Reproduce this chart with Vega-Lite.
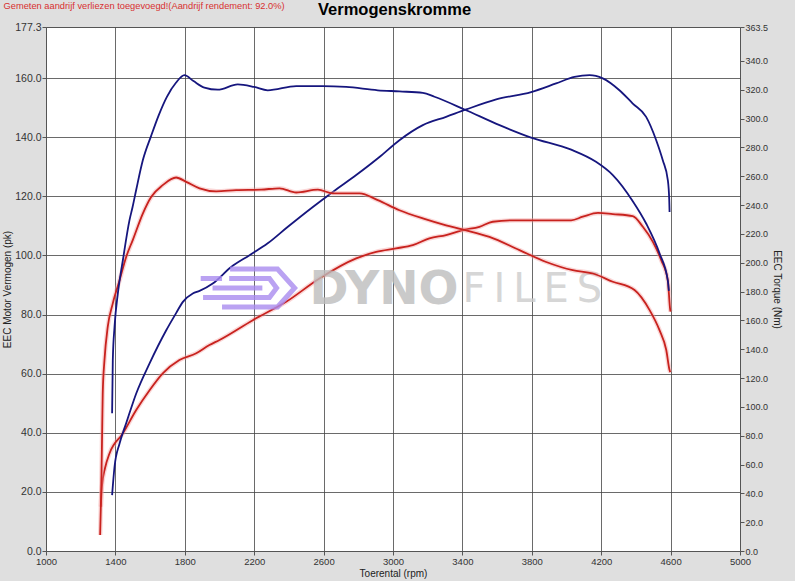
{
  "$schema": "https://vega.github.io/schema/vega-lite/v6.json",
  "autosize": {"type": "none"},
  "width": 694,
  "height": 524,
  "padding": {"left": 46, "top": 27, "right": 55, "bottom": 30},
  "background": "#dfdfdf",
  "config": {
    "view": {"fill": "#ffffff", "stroke": "#9a9a9a", "strokeWidth": 1},
    "axis": {"labelFont": "Liberation Sans", "labelFontSize": 10, "labelColor": "#333333", "labelOverlap": false, "titleFont": "Liberation Sans", "titleFontSize": 10, "titleFontWeight": "normal", "titleColor": "#222222", "tickColor": "#555555", "tickSize": 4, "domain": false, "gridColor": "#444444", "gridWidth": 0.8, "gridOpacity": 1}
  },
  "datasets": {
    "power": [
      {"rpm": 1316, "pk": 15.0, "run": "red"}, {"rpm": 1322, "pk": 21.7, "run": "red"}, {"rpm": 1340, "pk": 28.0, "run": "red"}, {"rpm": 1366, "pk": 33.0, "run": "red"}, {"rpm": 1443, "pk": 39.8, "run": "red"}, {"rpm": 1520, "pk": 47.7, "run": "red"}, {"rpm": 1597, "pk": 54.4, "run": "red"}, {"rpm": 1673, "pk": 60.1, "run": "red"}, {"rpm": 1769, "pk": 64.6, "run": "red"}, {"rpm": 1866, "pk": 66.9, "run": "red"}, {"rpm": 1942, "pk": 69.7, "run": "red"}, {"rpm": 2000, "pk": 71.4, "run": "red"}, {"rpm": 2192, "pk": 78.1, "run": "red"}, {"rpm": 2384, "pk": 84.3, "run": "red"}, {"rpm": 2576, "pk": 92.2, "run": "red"}, {"rpm": 2788, "pk": 99.0, "run": "red"}, {"rpm": 2903, "pk": 101.2, "run": "red"}, {"rpm": 3018, "pk": 102.4, "run": "red"}, {"rpm": 3114, "pk": 103.5, "run": "red"}, {"rpm": 3210, "pk": 105.8, "run": "red"}, {"rpm": 3306, "pk": 106.9, "run": "red"}, {"rpm": 3402, "pk": 108.6, "run": "red"}, {"rpm": 3498, "pk": 109.7, "run": "red"}, {"rpm": 3575, "pk": 111.4, "run": "red"}, {"rpm": 3710, "pk": 111.9, "run": "red"}, {"rpm": 3883, "pk": 111.9, "run": "red"}, {"rpm": 4027, "pk": 111.9, "run": "red"}, {"rpm": 4094, "pk": 113.1, "run": "red"}, {"rpm": 4181, "pk": 114.4, "run": "red"}, {"rpm": 4267, "pk": 114.0, "run": "red"}, {"rpm": 4382, "pk": 113.3, "run": "red"}, {"rpm": 4440, "pk": 109.7, "run": "red"}, {"rpm": 4498, "pk": 104.6, "run": "red"}, {"rpm": 4546, "pk": 98.4, "run": "red"}, {"rpm": 4584, "pk": 91.6, "run": "red"}, {"rpm": 4598, "pk": 81.5, "run": "red"}, {"rpm": 4600, "pk": 81.0, "run": "red"},
      {"rpm": 1381, "pk": 18.9, "run": "blue"}, {"rpm": 1395, "pk": 28.5, "run": "blue"}, {"rpm": 1424, "pk": 36.4, "run": "blue"}, {"rpm": 1462, "pk": 43.2, "run": "blue"}, {"rpm": 1520, "pk": 53.3, "run": "blue"}, {"rpm": 1597, "pk": 63.5, "run": "blue"}, {"rpm": 1693, "pk": 74.7, "run": "blue"}, {"rpm": 1750, "pk": 80.5, "run": "blue"}, {"rpm": 1789, "pk": 84.3, "run": "blue"}, {"rpm": 1846, "pk": 87.1, "run": "blue"}, {"rpm": 1885, "pk": 88.0, "run": "blue"}, {"rpm": 1961, "pk": 90.5, "run": "blue"}, {"rpm": 2067, "pk": 96.1, "run": "blue"}, {"rpm": 2173, "pk": 100.1, "run": "blue"}, {"rpm": 2278, "pk": 104.1, "run": "blue"}, {"rpm": 2394, "pk": 109.7, "run": "blue"}, {"rpm": 2538, "pk": 116.4, "run": "blue"}, {"rpm": 2653, "pk": 121.5, "run": "blue"}, {"rpm": 2788, "pk": 127.2, "run": "blue"}, {"rpm": 2922, "pk": 133.3, "run": "blue"}, {"rpm": 3037, "pk": 139.0, "run": "blue"}, {"rpm": 3172, "pk": 144.1, "run": "blue"}, {"rpm": 3306, "pk": 146.9, "run": "blue"}, {"rpm": 3422, "pk": 149.4, "run": "blue"}, {"rpm": 3595, "pk": 152.8, "run": "blue"}, {"rpm": 3796, "pk": 155.3, "run": "blue"}, {"rpm": 3940, "pk": 158.2, "run": "blue"}, {"rpm": 4046, "pk": 160.4, "run": "blue"}, {"rpm": 4133, "pk": 161.0, "run": "blue"}, {"rpm": 4209, "pk": 159.9, "run": "blue"}, {"rpm": 4305, "pk": 155.9, "run": "blue"}, {"rpm": 4382, "pk": 151.4, "run": "blue"}, {"rpm": 4459, "pk": 146.9, "run": "blue"}, {"rpm": 4517, "pk": 139.0, "run": "blue"}, {"rpm": 4555, "pk": 132.2, "run": "blue"}, {"rpm": 4584, "pk": 125.5, "run": "blue"}, {"rpm": 4592, "pk": 119.0, "run": "blue"}, {"rpm": 4594, "pk": 114.7, "run": "blue"}
    ],
    "torque": [
      {"rpm": 1312, "nm": 11.1, "run": "red"}, {"rpm": 1318, "nm": 40.0, "run": "red"}, {"rpm": 1324, "nm": 86.1, "run": "red"}, {"rpm": 1327, "nm": 109.3, "run": "red"}, {"rpm": 1337, "nm": 132.4, "run": "red"}, {"rpm": 1356, "nm": 155.6, "run": "red"}, {"rpm": 1385, "nm": 171.8, "run": "red"}, {"rpm": 1424, "nm": 187.8, "run": "red"}, {"rpm": 1462, "nm": 204.0, "run": "red"}, {"rpm": 1500, "nm": 215.7, "run": "red"}, {"rpm": 1558, "nm": 234.1, "run": "red"}, {"rpm": 1606, "nm": 245.6, "run": "red"}, {"rpm": 1673, "nm": 253.8, "run": "red"}, {"rpm": 1750, "nm": 259.1, "run": "red"}, {"rpm": 1808, "nm": 256.1, "run": "red"}, {"rpm": 1885, "nm": 251.6, "run": "red"}, {"rpm": 1981, "nm": 249.5, "run": "red"}, {"rpm": 2096, "nm": 250.3, "run": "red"}, {"rpm": 2240, "nm": 250.7, "run": "red"}, {"rpm": 2346, "nm": 251.6, "run": "red"}, {"rpm": 2442, "nm": 248.7, "run": "red"}, {"rpm": 2567, "nm": 250.7, "run": "red"}, {"rpm": 2653, "nm": 248.1, "run": "red"}, {"rpm": 2807, "nm": 248.1, "run": "red"}, {"rpm": 2912, "nm": 243.4, "run": "red"}, {"rpm": 3037, "nm": 236.4, "run": "red"}, {"rpm": 3172, "nm": 230.7, "run": "red"}, {"rpm": 3306, "nm": 225.9, "run": "red"}, {"rpm": 3412, "nm": 222.7, "run": "red"}, {"rpm": 3556, "nm": 217.9, "run": "red"}, {"rpm": 3729, "nm": 208.7, "run": "red"}, {"rpm": 3883, "nm": 200.5, "run": "red"}, {"rpm": 4036, "nm": 194.8, "run": "red"}, {"rpm": 4152, "nm": 192.5, "run": "red"}, {"rpm": 4267, "nm": 186.8, "run": "red"}, {"rpm": 4392, "nm": 181.0, "run": "red"}, {"rpm": 4479, "nm": 167.1, "run": "red"}, {"rpm": 4536, "nm": 153.2, "run": "red"}, {"rpm": 4575, "nm": 139.4, "run": "red"}, {"rpm": 4594, "nm": 125.5, "run": "red"}, {"rpm": 4598, "nm": 124.0, "run": "red"},
      {"rpm": 1381, "nm": 95.5, "run": "blue"}, {"rpm": 1385, "nm": 132.4, "run": "blue"}, {"rpm": 1395, "nm": 155.6, "run": "blue"}, {"rpm": 1414, "nm": 178.6, "run": "blue"}, {"rpm": 1443, "nm": 201.7, "run": "blue"}, {"rpm": 1481, "nm": 229.4, "run": "blue"}, {"rpm": 1499, "nm": 238.6, "run": "blue"}, {"rpm": 1520, "nm": 250.6, "run": "blue"}, {"rpm": 1558, "nm": 271.0, "run": "blue"}, {"rpm": 1606, "nm": 288.0, "run": "blue"}, {"rpm": 1650, "nm": 302.4, "run": "blue"}, {"rpm": 1696, "nm": 314.9, "run": "blue"}, {"rpm": 1750, "nm": 325.0, "run": "blue"}, {"rpm": 1798, "nm": 330.1, "run": "blue"}, {"rpm": 1850, "nm": 326.0, "run": "blue"}, {"rpm": 1913, "nm": 321.5, "run": "blue"}, {"rpm": 1990, "nm": 320.0, "run": "blue"}, {"rpm": 2105, "nm": 323.7, "run": "blue"}, {"rpm": 2200, "nm": 321.9, "run": "blue"}, {"rpm": 2278, "nm": 319.6, "run": "blue"}, {"rpm": 2442, "nm": 322.5, "run": "blue"}, {"rpm": 2595, "nm": 322.5, "run": "blue"}, {"rpm": 2730, "nm": 321.9, "run": "blue"}, {"rpm": 2912, "nm": 319.6, "run": "blue"}, {"rpm": 3037, "nm": 318.8, "run": "blue"}, {"rpm": 3172, "nm": 317.8, "run": "blue"}, {"rpm": 3239, "nm": 315.1, "run": "blue"}, {"rpm": 3412, "nm": 306.3, "run": "blue"}, {"rpm": 3614, "nm": 295.4, "run": "blue"}, {"rpm": 3796, "nm": 286.8, "run": "blue"}, {"rpm": 4027, "nm": 278.4, "run": "blue"}, {"rpm": 4170, "nm": 270.0, "run": "blue"}, {"rpm": 4267, "nm": 260.8, "run": "blue"}, {"rpm": 4382, "nm": 242.7, "run": "blue"}, {"rpm": 4459, "nm": 227.2, "run": "blue"}, {"rpm": 4536, "nm": 206.5, "run": "blue"}, {"rpm": 4584, "nm": 187.6, "run": "blue"}, {"rpm": 4590, "nm": 180.4, "run": "blue"}
    ]
  },
  "layer": [
    {
      "layer": [
        {
          "mark": {"type": "line", "strokeWidth": 4.5, "interpolate": "monotone", "color": "#f29a9a", "opacity": 0.4},
          "data": {"name": "power"},
          "transform": [{"filter": "datum.run === 'red'"}],
          "encoding": {
            "x": {"field": "rpm", "type": "quantitative", "scale": {"domain": [1000, 5000], "nice": false}, "axis": {"title": "Toerental (rpm)", "values": [1000,1200,1400,1600,1800,2000,2200,2400,2600,2800,3000,3200,3400,3600,3800,4000,4200,4400,4600,4800,5000], "format": "d", "labelFlush": false, "labelPadding": 1, "labelFontSize": 9.5, "titlePadding": 3}},
            "y": {"field": "pk", "type": "quantitative", "scale": {"domain": [0, 177.3], "nice": false, "zero": false}, "axis": {"title": "EEC Motor Vermogen (pk)", "values": [0,10,20,30,40,50,60,70,80,90,100,110,120,130,140,150,160,170,177.3], "format": ".1f", "labelPadding": 1, "labelFontSize": 10.5, "labelFlush": false, "titlePadding": 2}},
            "detail": {"field": "run", "type": "nominal"}
          }
        },
        {
          "mark": {"type": "line", "strokeWidth": 1.8, "interpolate": "monotone"},
          "data": {"name": "power"},
          "encoding": {
            "x": {"field": "rpm", "type": "quantitative", "scale": {"domain": [1000, 5000], "nice": false}},
            "y": {"field": "pk", "type": "quantitative"},
            "color": {"field": "run", "type": "nominal", "scale": {"domain": ["blue", "red"], "range": ["#16167e", "#c8221e"]}, "legend": null}
          }
        },
        {
          "mark": {"type": "point", "shape": "M -0.38,-0.4 L 0.62,-0.4 L 0.98,0 L 0.62,0.4 L -0.55,0.4 M -1,-0.2 L -0.55,-0.2 M -0.4,-0.2 L 0.45,-0.2 L 0.6,0 L 0.45,0.2 L -0.95,0.2 M -0.75,0 L 0.3,0", "filled": false, "stroke": "#a98cf0", "strokeWidth": 5, "opacity": 0.8, "size": 9000},
          "data": {"values": [{"label": "logo"}]},
          "encoding": {"x": {"datum": 2165, "type": "quantitative", "scale": {"domain": [1000, 5000], "nice": false}}, "y": {"datum": 89, "type": "quantitative"}}
        },
        {
          "mark": {"type": "text", "text": "DYNO", "font": "DejaVu Sans", "fontSize": 47, "fontWeight": "bold", "color": "#bdbdbd", "align": "left", "baseline": "middle", "opacity": 0.8},
          "data": {"values": [{"label": "wm"}]},
          "encoding": {"x": {"datum": 2519, "type": "quantitative", "scale": {"domain": [1000, 5000], "nice": false}}, "y": {"datum": 88.3, "type": "quantitative"}}
        },
        {
          "mark": {"type": "text", "text": "F\u2009I\u2009L\u2009E\u2009S", "font": "DejaVu Sans", "fontSize": 40, "fontWeight": "normal", "color": "#cccccc", "align": "left", "baseline": "middle", "opacity": 0.8},
          "data": {"values": [{"label": "wm2"}]},
          "encoding": {"x": {"datum": 3400, "type": "quantitative", "scale": {"domain": [1000, 5000], "nice": false}}, "y": {"datum": 88.3, "type": "quantitative"}}
        },
        {
          "mark": {"type": "text", "text": "Gemeten aandrijf verliezen toegevoegd!(Aandrijf rendement: 92.0%)", "font": "Liberation Sans", "fontSize": 9.3, "color": "#d83030", "align": "left", "baseline": "middle"},
          "data": {"values": [{"label": "note"}]},
          "encoding": {"x": {"datum": 755, "type": "quantitative", "scale": {"domain": [1000, 5000], "nice": false}}, "y": {"datum": 184.3, "type": "quantitative"}}
        },
        {
          "mark": {"type": "text", "text": "Vermogenskromme", "font": "Liberation Sans", "fontSize": 16.5, "fontWeight": "bold", "color": "#000000", "align": "center", "baseline": "middle"},
          "data": {"values": [{"label": "title"}]},
          "encoding": {"x": {"datum": 3009, "type": "quantitative", "scale": {"domain": [1000, 5000], "nice": false}}, "y": {"datum": 183.1, "type": "quantitative"}}
        }
      ]
    },
    {
      "layer": [
        {
          "mark": {"type": "line", "strokeWidth": 4.5, "interpolate": "monotone", "color": "#f29a9a", "opacity": 0.4},
          "data": {"name": "torque"},
          "transform": [{"filter": "datum.run === 'red'"}],
          "encoding": {
            "x": {"field": "rpm", "type": "quantitative", "scale": {"domain": [1000, 5000], "nice": false}},
            "y": {"field": "nm", "type": "quantitative", "scale": {"domain": [0, 363.5], "nice": false, "zero": false}, "axis": {"orient": "right", "title": "EEC Torque (Nm)", "grid": false, "values": [0,20,40,60,80,100,120,140,160,180,200,220,240,260,280,300,320,340,363.5], "format": ".1f", "labelPadding": 1, "labelFontSize": 9, "labelFlush": false, "labelOverlap": false, "titlePadding": 4}},
            "detail": {"field": "run", "type": "nominal"}
          }
        },
        {
          "mark": {"type": "line", "strokeWidth": 1.8, "interpolate": "monotone"},
          "data": {"name": "torque"},
          "encoding": {
            "x": {"field": "rpm", "type": "quantitative", "scale": {"domain": [1000, 5000], "nice": false}},
            "y": {"field": "nm", "type": "quantitative", "scale": {"domain": [0, 363.5], "nice": false, "zero": false}, "axis": {"orient": "right", "title": "EEC Torque (Nm)", "grid": false, "values": [0,20,40,60,80,100,120,140,160,180,200,220,240,260,280,300,320,340,363.5], "format": ".1f", "labelPadding": 1, "labelFontSize": 9, "labelFlush": false, "labelOverlap": false, "titlePadding": 4}},
            "color": {"field": "run", "type": "nominal", "legend": null}
          }
        }
      ]
    }
  ],
  "resolve": {"scale": {"y": "independent"}}
}
